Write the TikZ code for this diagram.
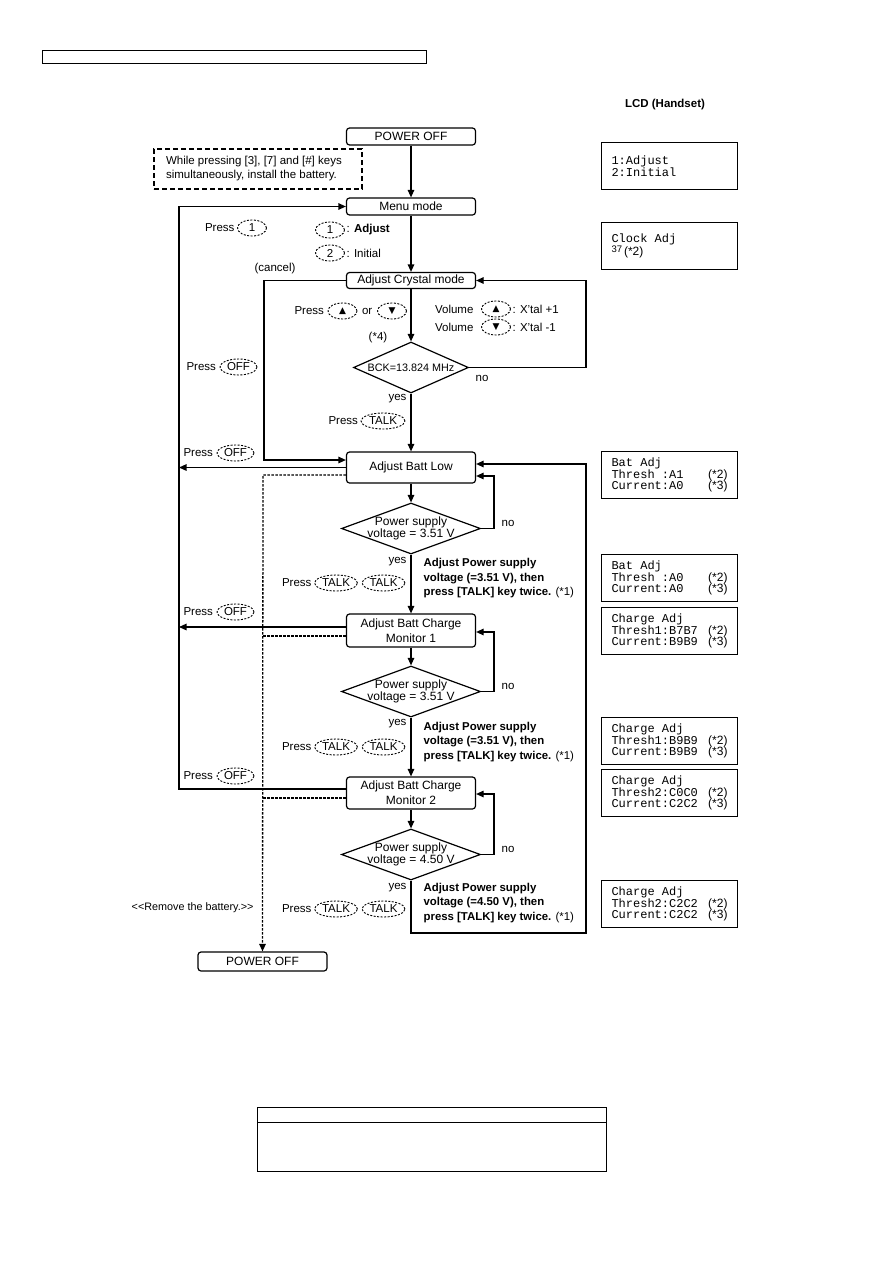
\documentclass[tikz,border=0pt]{standalone}
\usepackage{fontspec}
\setmainfont{Liberation Sans}
\setmonofont{Liberation Mono}
\newfontfamily\symfont{DejaVu Sans}
\usetikzlibrary{positioning,shapes.geometric,arrows.meta}
\newcommand\lcdnote[1]{{\rmfamily #1}}
\tikzset{
  box/.style={draw,rounded corners=3pt,minimum width=129pt,inner sep=0pt,align=flush center,
    font=\fontsize{12}{15}\selectfont},
  dec/.style={draw,diamond,inner sep=0pt,minimum width=139pt,minimum height=51pt},
  dectext/.style={align=flush center,inner sep=0pt,font=\fontsize{12}{12}\selectfont},
  keyb/.style={draw,ellipse,dash pattern=on 2pt off 1.5pt,line width=0.9pt,inner sep=0.5pt,
    minimum width=29pt,minimum height=16pt,font=\fontsize{11.5}{12}\selectfont},
  lcd/.style={draw,line width=1pt,inner xsep=10pt,text width=116pt,minimum height=47pt,align=flush left,
    font=\ttfamily\fontsize{12}{11.5}\selectfont},
  txt/.style={inner sep=0pt,font=\fontsize{11.5}{14}\selectfont},
  boldtxt/.style={inner sep=0pt,align=flush left,font=\fontsize{11.4}{14.5}\selectfont\bfseries},
  arr/.style={-{Triangle[length=7.5pt,width=6.5pt]}},
  dline/.style={dash pattern=on 2.5pt off 1.5pt,line width=1.3pt}
}
\begin{document}
\begin{tikzpicture}[x=1pt,y=-1pt,line width=1.2pt]
  \useasboundingbox (0,0) rectangle (893,1263);
  % page frame bits
  \draw[line width=1pt] (42,51) rectangle (426,64);
  \draw[line width=1pt] (257,1107) rectangle (606,1171);
  \draw[line width=1pt] (257,1122) -- (606,1122);

  % flow
  \node[box,minimum height=17pt] (pofftop) at (411,136.5) {POWER OFF};
  \node[draw,dash pattern=on 5pt off 3pt,minimum width=208pt,minimum height=40pt,inner xsep=12pt,
    text width=184pt,align=flush left,font=\fontsize{11.5}{14}\selectfont] (note) at (258,169)
    {While pressing [3], [7] and [\#] keys\\simultaneously, install the battery.};
  \node[box,minimum height=17pt] (menu) at (411,206.5) {Menu mode};
  \node[box,minimum height=16pt] (crystal) at (411,280.5) {Adjust Crystal mode};
  \node[dec,minimum width=115pt,label={[dectext,font=\fontsize{10.8}{12}\selectfont]center:BCK=13.824 MHz}] (bck) at (411,367.5) {};
  \node[box,minimum height=31pt] (lowbox) at (411,467.5) {Adjust Batt Low};
  \node[dec,label={[dectext]center:Power supply\\voltage = 3.51 V}] (d1) at (411,528.5) {};
  \node[box,minimum height=33pt] (mon1) at (411,630.5) {Adjust Batt Charge\\Monitor 1};
  \node[dec,label={[dectext]center:Power supply\\voltage = 3.51 V}] (d2) at (411,691.5) {};
  \node[box,minimum height=32pt] (mon2) at (411,793) {Adjust Batt Charge\\Monitor 2};
  \node[dec,label={[dectext]center:Power supply\\voltage = 4.50 V}] (d3) at (411,854.5) {};
  \node[box,minimum height=19pt] (poffbot) at (262.5,961.5) {POWER OFF};

  \coordinate (lft) at (179,789);
  \coordinate (m1l) at (179,627);
  \coordinate (cnl) at (264,460);
  \coordinate (dtop) at (263,475);
  \coordinate (dm1) at (263,636);
  \coordinate (dm2) at (263,798);
  \coordinate (rgt) at (586,464);
  \coordinate (rbot) at (586,933);
  \coordinate (xl) at (586,367.5);
  \coordinate (n1) at (494,476);
  \coordinate (n2) at (494,632);
  \coordinate (n3) at (494,794);

  \draw[arr] (pofftop) -- (menu);
  \draw[arr] (menu) -- (crystal);
  \draw[arr] (crystal) -- (bck);
  \draw[arr] (bck) -- (lowbox);
  \draw[arr] (lowbox) -- (d1);
  \draw[arr] (d1) -- (mon1);
  \draw[arr] (mon1) -- (d2);
  \draw[arr] (d2) -- (mon2);
  \draw[arr] (mon2) -- (d3);

  \draw[arr] (mon2.west |- lft) -- (lft) |- (menu.west);
  \draw[arr] (lowbox.west) -- (lowbox.west -| lft);
  \draw[arr] (mon1.west |- m1l) -- (m1l);
  \draw[arr] (crystal.west) -| (cnl) -- (cnl -| lowbox.west);
  \draw[arr] (bck.east) -- (xl) |- (crystal.east);
  \draw[arr] (d1.east) -| (n1) -- (n1 -| lowbox.east);
  \draw[arr] (d2.east) -| (n2) -- (n2 -| mon1.east);
  \draw[arr] (d3.east) -| (n3) -- (n3 -| mon2.east);
  \draw[arr] (d3.south) |- (rbot) -- (rgt) -- (rgt -| lowbox.east);
  \draw[dline,arr] (dtop -| lowbox.west) -- (dtop) -- (poffbot.north);
  \draw[dline] (dm1 -| mon1.west) -- (dm1);
  \draw[dline] (dm2 -| mon2.west) -- (dm2);

  % keys and labels
  \node[keyb] (kp) at (252,228) {1};
  \node[txt,left=2pt of kp] (prp) {Press};
  \node[keyb] (ka) at (330,230) {1};
  \node[txt,right=1pt of ka] (ta) {: \textbf{Adjust}};
  \node[keyb] (ki) at (330,253) {2};
  \node[txt,right=1pt of ki] (ti) {: Initial};
  \node[txt] (cancel) at (275,269) {(cancel)};

  \node[keyb] (kup) at (342.5,311) {\symfont\fontsize{9}{9}\selectfont ▲};
  \node[txt,left=3pt of kup] (prud) {Press};
  \node[txt,right=4pt of kup] (kor) {or};
  \node[keyb] (kdn) at (392,311) {\symfont\fontsize{9}{9}\selectfont ▼};
  \node[keyb] (vup) at (496,309) {\symfont\fontsize{9}{9}\selectfont ▲};
  \node[txt,left=7pt of vup] (vol1) {Volume};
  \node[txt,right=1pt of vup] (x1) {: X'tal +1};
  \node[keyb] (vdn) at (496,327) {\symfont\fontsize{9}{9}\selectfont ▼};
  \node[txt,left=7pt of vdn] (vol2) {Volume};
  \node[txt,right=1pt of vdn] (x2) {: X'tal -1};
  \node[txt] (s4) at (378,338) {(*4)};
  \node[txt] (no0) at (482,378) {no};
  \node[txt,anchor=east] (yes0) at (407,399) {yes};
  \node[keyb,minimum width=44pt] (kt0) at (383,421) {TALK};
  \node[txt,left=2pt of kt0] (prt0) {Press};

  \node[keyb,minimum width=37pt] (off0) at (238.5,367) {OFF};
  \node[txt,left=3pt of off0] (proff0) {Press};
  \foreach \i/\y in {1/453,2/612,3/776} {
    \node[keyb,minimum width=37pt] (off\i) at (235.5,\y) {OFF};
    \node[txt,left=3pt of off\i] (proff\i) {Press};
  }
  \foreach \i/\y/\n in {1/583/523,2/747/686,3/909/849} {
    \node[keyb,minimum width=43pt] (ta\i) at (336,\y) {TALK};
    \node[keyb,minimum width=43pt] (tb\i) at (383.5,\y) {TALK};
    \node[txt,left=2pt of ta\i] (prt\i) {Press};
    \node[txt] (no\i) at (508,\n) {no};
  }
  \node[txt,anchor=east] (yes1) at (407,562) {yes};
  \node[txt,anchor=east] (yes2) at (407,724) {yes};
  \node[txt,anchor=east] (yes3) at (407,888) {yes};
  \foreach \i/\y/\v in {1/578.5/3.51,2/742/3.51,3/903/4.50}
    \node[boldtxt,anchor=west] (adj\i) at (423,\y)
      {Adjust Power supply\\voltage (=\v~V), then\\press [TALK] key twice. {\mdseries (*1)}};
  \node[txt,anchor=east,font=\fontsize{10.8}{12}\selectfont] (remove) at (254,908) {<{}<Remove the battery.>{}>};

  % LCD column
  \node[txt,font=\fontsize{11.5}{12}\selectfont\bfseries] (lcdh) at (665,105) {LCD (Handset)};
  \node[lcd] (lcd1) at (669.5,166) {1:Adjust\\2:Initial};
  \node[lcd] (lcd2) at (669.5,246) {Clock Adj\\\raisebox{2.5pt}{\rmfamily\fontsize{9.5}{9.5}\selectfont 37}\,\lcdnote{(*2)}};
  \foreach \n/\y/\a/\b/\c in {3/475/Bat Adj/Thresh :A1/Current:A0,
      4/578/Bat Adj/Thresh :A0/Current:A0,
      5/631/Charge Adj/Thresh1:B7B7/Current:B9B9,
      6/741/Charge Adj/Thresh1:B9B9/Current:B9B9,
      7/793/Charge Adj/Thresh2:C0C0/Current:C2C2,
      8/904/Charge Adj/Thresh2:C2C2/Current:C2C2}
    \node[lcd] (lcd\n) at (669.5,\y) {\a\\\b\hfill\lcdnote{(*2)}\\\c\hfill\lcdnote{(*3)}};
\end{tikzpicture}
\end{document}
